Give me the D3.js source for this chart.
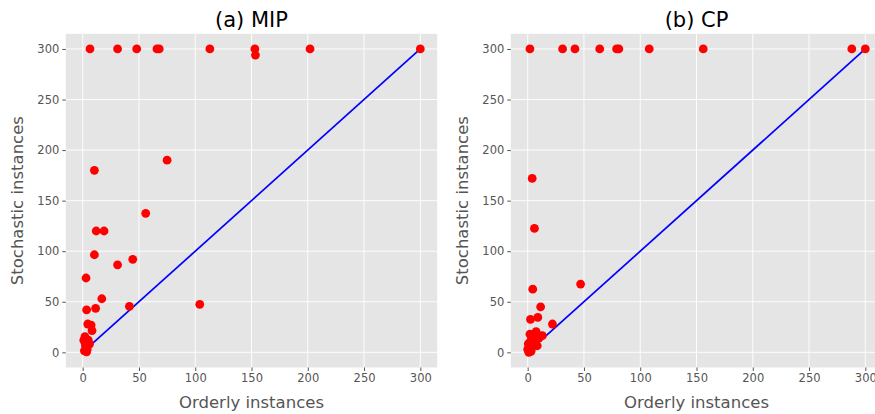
<!DOCTYPE html>
<html>
<head>
<meta charset="utf-8">
<style>
  body { margin: 0; background: #fff; overflow: hidden; }
  svg { display: block; font-family: "DejaVu Sans", sans-serif; }
</style>
<title>MIP vs CP</title>
</head>
<body>
<script src="https://cdn.jsdelivr.net/npm/d3@7"></script>
<script>

// ---- data
var tickValues = [0, 50, 100, 150, 200, 250, 300];

var mipX = [6.5, 31, 48, 66, 68, 113, 153, 153.5, 202, 300,
            10.4, 75, 56, 12, 19, 10.4, 31, 44.5, 3, 17, 11.5, 3.5, 41.5, 104,
            4.5, 7.5, 8.3, 2, 1, 6, 3, 1.5, 3.5, 2, 4, 5, 2.5];
var mipY = [300, 300, 300, 300, 300, 300, 300, 294, 300, 300,
            180, 190, 137.5, 120, 120, 96.5, 86.5, 92, 73.5, 53, 43.5, 42, 45.5, 47.5,
            28, 27, 21.5, 15.5, 12, 8, 5.5, 1.5, 0.5, 10, 3, 12, 7];

var cpX = [2, 31, 42, 64, 79, 81, 108, 156, 288, 300,
           4, 6, 47, 4.5, 11.5, 9, 2.5, 22, 7.5, 2, 13, 3, 8.5, 0.5, 0, 3, 6, 5, 1, 4, 10, 2];
var cpY = [300, 300, 300, 300, 300, 300, 300, 300, 300, 300,
           172, 122.5, 67.5, 62.5, 45, 34.5, 32.5, 28, 20.5, 18, 16.5, 12, 6.5, 8.5, 3, 1, 16, 10, 0, 5, 14, 6];

// diagonal reference line (y = x)
var diagonal = [8, 300];

var panels = [
  {title: "(a) MIP", xs: mipX, ys: mipY, left: 65.8},
  {title: "(b) CP",  xs: cpX,  ys: cpY,  left: 510.8}
];

var width = 875, height = 414;
var plotTop = 33.8, plotBottom = 367.5, plotW = 371.4;

var svg = d3.select("body").append("svg")
  .attr("width", width)
  .attr("height", height);

panels.forEach(function(p) {
  var x = d3.scaleLinear().domain([-15, 315]).range([p.left, p.left + plotW]);
  var y = d3.scaleLinear().domain([-15, 315]).range([plotBottom, plotTop]);

  var g = svg.append("g");

  g.append("rect")
    .attr("x", x(-15)).attr("y", y(315))
    .attr("width", x(315) - x(-15)).attr("height", y(-15) - y(315))
    .attr("fill", "#e5e5e5");

  // grid
  g.selectAll(".vg").data(tickValues).enter().append("line")
    .attr("x1", function(d) { return x(d); }).attr("x2", function(d) { return x(d); })
    .attr("y1", y(-15)).attr("y2", y(315))
    .attr("stroke", "#fff").attr("stroke-width", 0.9);
  g.selectAll(".hg").data(tickValues).enter().append("line")
    .attr("y1", function(d) { return y(d); }).attr("y2", function(d) { return y(d); })
    .attr("x1", x(-15)).attr("x2", x(315))
    .attr("stroke", "#fff").attr("stroke-width", 0.9);

  // axes
  var xa = g.append("g")
    .attr("transform", "translate(0," + plotBottom + ")")
    .call(d3.axisBottom(x).tickValues(tickValues).tickSize(3.5).tickPadding(3));
  var ya = g.append("g")
    .attr("transform", "translate(" + p.left + ",0)")
    .call(d3.axisLeft(y).tickValues(tickValues).tickSize(3.5).tickPadding(3));
  [xa, ya].forEach(function(a) {
    a.select(".domain").remove();
    a.selectAll(".tick line").attr("stroke", "#555");
    a.selectAll(".tick text")
      .attr("fill", "#555")
      .style("font-size", "11.5px")
      .style("font-family", "DejaVu Sans");
  });

  // diagonal
  var line = d3.line()
    .x(function(d) { return x(d); })
    .y(function(d) { return y(d); });
  g.append("path")
    .attr("d", line(diagonal))
    .attr("fill", "none")
    .attr("stroke", "#0000ff")
    .attr("stroke-width", 1.7);

  // points
  g.selectAll("circle").data(p.xs).enter().append("circle")
    .attr("cx", function(d) { return x(d); })
    .attr("cy", function(d, i) { return y(p.ys[i]); })
    .attr("r", 4.4)
    .attr("fill", "#ff0000");

  // labels
  var cx = (x(-15) + x(315)) / 2;
  g.append("text")
    .attr("x", cx).attr("y", 27)
    .attr("text-anchor", "middle")
    .style("font-size", "21px")
    .attr("fill", "#000")
    .text(p.title);
  g.append("text")
    .attr("x", cx).attr("y", 408)
    .attr("text-anchor", "middle")
    .style("font-size", "16.5px")
    .attr("fill", "#555")
    .text("Orderly instances");
  g.append("text")
    .attr("transform", "translate(" + (p.left - 43) + "," + ((plotTop + plotBottom) / 2) + ") rotate(-90)")
    .attr("text-anchor", "middle")
    .style("font-size", "16.5px")
    .attr("fill", "#555")
    .text("Stochastic instances");
});

</script>
</body>
</html>
